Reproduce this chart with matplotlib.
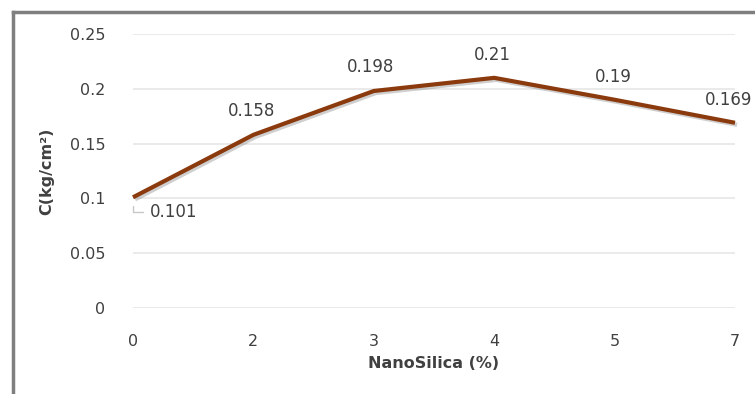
import matplotlib.pyplot as plt
import matplotlib.patheffects as pe
from matplotlib.lines import Line2D

plt.rcParams['font.family'] = ['DejaVu Sans']

# nano silica content vs cohesion
nano_silica = ['0', '2', '3', '4', '5', '7']
cohesion = [0.101, 0.158, 0.198, 0.21, 0.19, 0.169]
yticks = [0, 0.05, 0.1, 0.15, 0.2, 0.25]

W, H = 755, 394
fig = plt.figure(figsize=(W / 100, H / 100), dpi=100)
ax = fig.add_axes([133 / W, 1 - 308 / H, (735 - 133) / W, (308 - 34) / H])

x = list(range(len(nano_silica)))
ax.plot(x, cohesion, color='#8B3A0E', lw=3, solid_capstyle='butt',
        path_effects=[pe.SimpleLineShadow(offset=(1.5, -1.5), shadow_color='#888888', alpha=0.4),
                      pe.Normal()], clip_on=False, zorder=3)

# data labels, offsets in pixels from the point to the label's left/centre
offsets = [(17, -15), (-26, 24), (-27, 24), (-20, 23), (-20, 23), (-30, 23)]
for i, (xi, yi, (dx, dy)) in enumerate(zip(x, cohesion, offsets)):
    kw = {}
    if i == 0:
        kw['arrowprops'] = dict(arrowstyle='-', color='#c8c8c8', lw=1,
                                shrinkA=3, shrinkB=6,
                                connectionstyle='angle,angleA=0,angleB=90,rad=0')
    ax.annotate(f'{yi:g}', (xi, yi), xytext=(dx, dy), textcoords='offset pixels',
                ha='left', va='center', fontsize=12, color='#404040',
                annotation_clip=False, **kw)

ax.set_xlim(0, len(nano_silica) - 1)
ax.set_ylim(0, 0.25)
ax.set_xticks(x)
ax.set_xticklabels(nano_silica)
ax.set_yticks(yticks)
ax.set_yticklabels([f'{v:g}' for v in yticks])
ax.yaxis.grid(True, color='#e6e6e6', lw=1.2)
ax.set_axisbelow(True)
for s in ax.spines.values():
    s.set_visible(False)
ax.tick_params(length=0, labelsize=11.5, labelcolor='#404040')
ax.tick_params(axis='x', pad=19)
ax.tick_params(axis='y', pad=20)

ax.set_xlabel('NanoSilica (%)', fontsize=11.5, fontweight='bold', color='#404040', labelpad=5)
ax.set_ylabel('C(kg/cm²)', fontsize=11.5, fontweight='bold', color='#404040', labelpad=11)

# outer frame (left and top edges)
fig.add_artist(Line2D([13 / W, 13 / W], [0, 1 - 12 / H], color='#7f7f7f', lw=2.5))
fig.add_artist(Line2D([13 / W, 1], [1 - 12 / H, 1 - 12 / H], color='#7f7f7f', lw=2.5))

fig.savefig('out.png', dpi=100)
